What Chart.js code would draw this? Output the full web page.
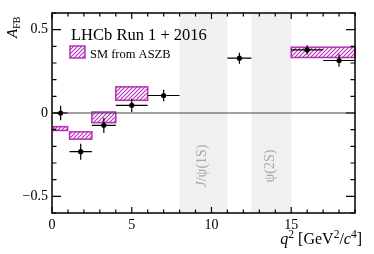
<!DOCTYPE html>
<html>
<head>
<meta charset="utf-8">
<script src="https://cdn.jsdelivr.net/npm/chart.js@4.4.1/dist/chart.umd.min.js"></script>
<style>
  html, body { margin: 0; padding: 0; background: #fff; }
</style>
</head>
<body>
<canvas id="afbChart" width="374" height="254"></canvas>
<script>
// q2 bins of the measurement
const binLo = [0.10, 1.10, 2.50, 4.00, 6.00, 11.00, 15.00, 17.00];
const binHi = [0.98, 2.50, 4.00, 6.00, 8.00, 12.50, 17.00, 19.00];
const afbVal = [0.000, -0.232, -0.074, 0.046, 0.105, 0.329, 0.379, 0.315];
const afbErr = [0.044, 0.048, 0.046, 0.040, 0.035, 0.033, 0.028, 0.037];

// SM prediction boxes (ASZB)
const smLo = [0.10, 1.10, 2.50, 4.00, 15.00];
const smHi = [0.98, 2.50, 4.00, 6.00, 19.00];
const smMin = [-0.105, -0.157, -0.058, 0.076, 0.333];
const smMax = [-0.082, -0.113, 0.006, 0.157, 0.395];

// charmonium vetoes
const vetoLo = [8.0, 12.5];
const vetoHi = [11.0, 15.0];
const vetoLabels = [
    [{ t: 'J', it: true }, { t: '/\u03c8(1S)' }],
    [{ t: '\u03c8(2S)' }]
];

const xTickVals = [0, 5, 10, 15];
const yTickVals = [-0.5, 0, 0.5];

const SERIF = '"Liberation Serif", "DejaVu Serif", serif';
const MAGENTA = '#b52fb5';

function makeHatch(color) {
    const c = document.createElement('canvas');
    c.width = 4; c.height = 4;
    const g = c.getContext('2d');
    g.strokeStyle = color;
    g.lineWidth = 1.1;
    g.beginPath();
    g.moveTo(0, 4); g.lineTo(4, 0);
    g.moveTo(-1, 1); g.lineTo(1, -1);
    g.moveTo(3, 5); g.lineTo(5, 3);
    g.stroke();
    return g.createPattern(c, 'repeat');
}

// draw a sequence of text pieces with their own fonts
function drawRuns(ctx, runs, x, y, align) {
    let total = 0;
    runs.forEach(r => { ctx.font = r.font; r.w = ctx.measureText(r.t).width; total += r.w; });
    let cx = align === 'right' ? x - total : align === 'center' ? x - total / 2 : x;
    ctx.textAlign = 'left';
    runs.forEach(r => { ctx.font = r.font; ctx.fillText(r.t, cx, y + (r.dy || 0)); cx += r.w; });
}

const decor = {
    id: 'decor',
    beforeDatasetsDraw(chart) {
        const { ctx, chartArea: a, scales: { x, y } } = chart;
        ctx.save();

        // veto bands
        ctx.fillStyle = '#f0f0f0';
        vetoLo.forEach((lo, i) => {
            const x0 = x.getPixelForValue(lo), x1 = x.getPixelForValue(vetoHi[i]);
            ctx.fillRect(x0, a.top, x1 - x0, a.bottom - a.top);
        });
        ctx.fillStyle = '#a8a8a8';
        ctx.textBaseline = 'middle';
        vetoLo.forEach((lo, i) => {
            const cx = (x.getPixelForValue(lo) + x.getPixelForValue(vetoHi[i])) / 2 - 1;
            ctx.save();
            ctx.translate(cx, 166);
            ctx.rotate(-Math.PI / 2);
            drawRuns(ctx, vetoLabels[i].map(r => ({ t: r.t, font: (r.it ? 'italic ' : '') + '14px ' + SERIF })), 0, 0, 'center');
            ctx.restore();
        });

        // SM boxes
        const pat = makeHatch(MAGENTA);
        smLo.forEach((lo, i) => {
            const x0 = x.getPixelForValue(lo), x1 = x.getPixelForValue(smHi[i]);
            const y0 = y.getPixelForValue(smMax[i]), y1 = y.getPixelForValue(smMin[i]);
            ctx.fillStyle = pat;
            ctx.fillRect(x0, y0, x1 - x0, y1 - y0);
            ctx.strokeStyle = MAGENTA;
            ctx.lineWidth = 1.5;
            ctx.strokeRect(x0, y0, x1 - x0, y1 - y0);
        });

        // zero line
        ctx.strokeStyle = '#444';
        ctx.lineWidth = 1.2;
        ctx.beginPath();
        ctx.moveTo(a.left, y.getPixelForValue(0));
        ctx.lineTo(a.right, y.getPixelForValue(0));
        ctx.stroke();

        // error bars
        ctx.strokeStyle = '#000';
        ctx.lineWidth = 1.2;
        afbVal.forEach((v, i) => {
            const c = (binLo[i] + binHi[i]) / 2;
            ctx.beginPath();
            ctx.moveTo(x.getPixelForValue(binLo[i]), y.getPixelForValue(v));
            ctx.lineTo(x.getPixelForValue(binHi[i]), y.getPixelForValue(v));
            ctx.moveTo(x.getPixelForValue(c), y.getPixelForValue(v - afbErr[i]));
            ctx.lineTo(x.getPixelForValue(c), y.getPixelForValue(v + afbErr[i]));
            ctx.stroke();
        });
        ctx.restore();
    },
    afterDraw(chart) {
        const { ctx, chartArea: a, scales: { x, y } } = chart;
        ctx.save();
        ctx.strokeStyle = '#000';
        ctx.lineWidth = 1.5;
        ctx.strokeRect(a.left, a.top, a.right - a.left, a.bottom - a.top);

        // inward ticks on all four sides
        ctx.lineWidth = 1.2;
        ctx.beginPath();
        for (let v = 0; v <= 19; v++) {
            const px = x.getPixelForValue(v);
            const len = v % 5 === 0 ? 6 : 3.5;
            ctx.moveTo(px, a.bottom); ctx.lineTo(px, a.bottom - len);
            ctx.moveTo(px, a.top); ctx.lineTo(px, a.top + len);
        }
        for (let k = -6; k <= 6; k++) {
            const py = y.getPixelForValue(k / 10);
            const len = k % 5 === 0 ? 9 : 4.5;
            ctx.moveTo(a.left, py); ctx.lineTo(a.left + len, py);
            ctx.moveTo(a.right, py); ctx.lineTo(a.right - len, py);
        }
        ctx.stroke();

        ctx.fillStyle = '#000';
        ctx.textBaseline = 'alphabetic';

        // label and legend
        ctx.font = '16.5px ' + SERIF;
        ctx.textAlign = 'left';
        ctx.fillText('LHCb Run 1 + 2016', 71, 39.5);
        ctx.fillStyle = makeHatch(MAGENTA);
        ctx.fillRect(70, 46, 15, 12);
        ctx.strokeStyle = MAGENTA;
        ctx.lineWidth = 1.5;
        ctx.strokeRect(70, 46, 15, 12);
        ctx.fillStyle = '#000';
        ctx.font = '12.5px ' + SERIF;
        ctx.fillText('SM from ASZB', 90, 57.5);

        // x axis title
        drawRuns(ctx, [
            { t: 'q', font: 'italic 16px ' + SERIF },
            { t: '2', font: '11.5px ' + SERIF, dy: -6.5 },
            { t: ' [GeV', font: '16px ' + SERIF },
            { t: '2', font: '11.5px ' + SERIF, dy: -6.5 },
            { t: '/', font: '16px ' + SERIF },
            { t: 'c', font: 'italic 16px ' + SERIF },
            { t: '4', font: '11.5px ' + SERIF, dy: -6.5 },
            { t: ']', font: '16px ' + SERIF }
        ], 362, 244, 'right');

        // y axis title
        ctx.save();
        ctx.translate(17, 38);
        ctx.rotate(-Math.PI / 2);
        drawRuns(ctx, [
            { t: 'A', font: 'italic 15px ' + SERIF },
            { t: 'FB', font: '10px ' + SERIF, dy: 3 }
        ], 0, 0, 'left');
        ctx.restore();
        ctx.restore();
    }
};

new Chart(document.getElementById('afbChart'), {
    type: 'scatter',
    data: {
        datasets: [{
            label: 'Data',
            data: afbVal.map((v, i) => ({ x: (binLo[i] + binHi[i]) / 2, y: v })),
            backgroundColor: '#000',
            borderColor: '#000',
            borderWidth: 0,
            pointRadius: 2.6
        }]
    },
    options: {
        responsive: false,
        devicePixelRatio: 1,
        animation: false,
        layout: { padding: { top: 13, right: 19, left: 0, bottom: 0 } },
        plugins: { legend: { display: false }, tooltip: { enabled: false } },
        scales: {
            x: {
                type: 'linear', min: 0, max: 19,
                afterBuildTicks: s => { s.ticks = xTickVals.map(v => ({ value: v })); },
                afterFit: s => { s.height = 41; },
                ticks: { color: '#000', font: { family: SERIF, size: 14 }, padding: 4, maxRotation: 0, autoSkip: false,
                    callback: v => String(v) },
                grid: { display: false, drawTicks: false },
                border: { display: false }
            },
            y: {
                type: 'linear', min: -0.6, max: 0.6,
                afterBuildTicks: s => { s.ticks = yTickVals.map(v => ({ value: v })); },
                afterFit: s => { s.width = 52; },
                ticks: { color: '#000', font: { family: SERIF, size: 14 }, padding: 4, autoSkip: false,
                    callback: v => v < 0 ? '\u2212' + Math.abs(v) : String(v) },
                grid: { display: false, drawTicks: false },
                border: { display: false }
            }
        }
    },
    plugins: [decor]
});
</script>
</body>
</html>
